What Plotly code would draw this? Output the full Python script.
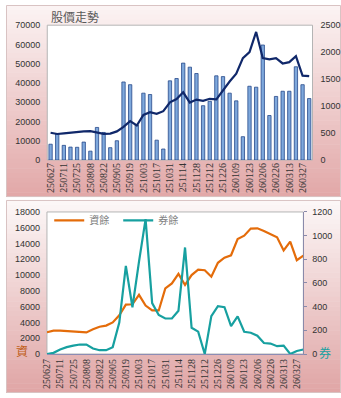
import plotly.graph_objects as go

W, H = 341, 398

dates = ["250627", "250704", "250711", "250718", "250725", "250801", "250808", "250815",
         "250822", "250829", "250905", "250912", "250919", "250926", "251003", "251009",
         "251017", "251024", "251031", "251107", "251114", "251121", "251128", "251205",
         "251212", "251219", "251226", "260102", "260109", "260116", "260123", "260130",
         "260206", "260213", "260226", "260306", "260313", "260320", "260327", "260402"]
tick_labels = dates[::2]

volume = [8200, 13500, 7600, 6700, 6600, 9300, 4600, 16900, 14300, 6400,
          10000, 40500, 39100, 18200, 34700, 34000, 10300, 5700, 41100, 42300,
          50300, 48200, 44900, 28200, 30500, 43700, 43300, 34700, 30700, 12100,
          38300, 37800, 59700, 23100, 33000, 35700, 35700, 48400, 39100, 31900]

price = [505, 482, 494, 510, 522, 530, 534, 506, 484, 490,
         530, 614, 720, 640, 835, 888, 857, 905, 1070, 1130,
         1255, 1066, 1120, 1096, 1135, 1125, 1300, 1455, 1600, 1890,
         2000, 2375, 1890, 1865, 1890, 1790, 1815, 1925, 1565, 1555]

margin_bal = [2760, 2970, 2970, 2920, 2900, 2800, 2740, 3130, 3460, 3600,
              4000, 4900, 6260, 6300, 7500, 6140, 5520, 5520, 8300, 8950,
              10150, 8750, 10000, 10700, 10620, 9800, 11560, 12200, 12510, 14570,
              15000, 15900, 15930, 15600, 15190, 14780, 13130, 14240, 11890, 12470]

short_bal = [0, 10, 38, 58, 71, 80, 80, 46, 32, 32,
             58, 265, 745, 395, 780, 1140, 430, 330, 300, 300,
             365, 900, 222, 189, 0, 320, 404, 395, 236, 318,
             188, 180, 154, 93, 88, 66, 71, 0, 25, 38]

def px_x(p):
    return p / W

def px_y(p):
    return 1 - p / H

fig = go.Figure()
fig.add_trace(go.Bar(x=dates, y=volume, xaxis="x", yaxis="y", showlegend=False,
                     marker=dict(color="#7ea8dc", line=dict(color="#27498a", width=0.8))))
fig.add_trace(go.Scatter(x=dates, y=price, xaxis="x", yaxis="y2", mode="lines", showlegend=False,
                         line=dict(color="#10286a", width=2.2)))
fig.add_trace(go.Scatter(x=dates, y=margin_bal, xaxis="x2", yaxis="y3", mode="lines", name="資餘",
                         line=dict(color="#e46c0a", width=2.2)))
fig.add_trace(go.Scatter(x=dates, y=short_bal, xaxis="x2", yaxis="y4", mode="lines", name="券餘",
                         line=dict(color="#17a0a0", width=2.2)))

shapes = []

def gradient_panel(y0, y1, c0, c1, n=40):
    for i in range(n):
        t = i / (n - 1)
        c = tuple(round(c0[k] + (c1[k] - c0[k]) * t) for k in range(3))
        a = y0 + (y1 - y0) * i / n
        b = y0 + (y1 - y0) * (i + 1) / n + 0.5
        shapes.append(dict(type="rect", xref="paper", yref="paper", layer="below",
                           x0=0, x1=1, y0=px_y(min(b, y1)), y1=px_y(a),
                           fillcolor="rgb(%d,%d,%d)" % c, line=dict(width=0)))
    shapes.append(dict(type="rect", xref="paper", yref="paper", layer="below",
                       x0=px_x(0.5), x1=px_x(W - 0.5), y0=px_y(y1 - 0.5), y1=px_y(y0 + 0.5),
                       line=dict(color="#d9c3c3", width=1)))

gradient_panel(0, 197, (251, 243, 243), (226, 168, 168))
gradient_panel(200, 398, (252, 247, 247), (224, 166, 166))

# plot-area backgrounds
top_dom_x = [px_x(42), px_x(312)]
top_dom_y = [px_y(159), px_y(20.7)]
bot_dom_x = [px_x(41.7), px_x(302.7)]
bot_dom_y = [px_y(358), px_y(212.3)]
for dx, dy in [(top_dom_x, top_dom_y), (bot_dom_x, bot_dom_y)]:
    shapes.append(dict(type="rect", xref="paper", yref="paper", layer="below",
                       x0=dx[0], x1=dx[1], y0=dy[0], y1=dy[1],
                       fillcolor="white", line=dict(color="#b4b4b4", width=1)))

tick_font = dict(family="Liberation Sans, Arial", size=9, color="#333333")
x_font = dict(family="Liberation Serif, Times New Roman", size=10, color="#333333")
num_fmt = dict(tickformat="d", exponentformat="none", separatethousands=False)

fig.update_layout(
    width=W, height=H, autosize=False,
    margin=dict(l=0, r=0, t=0, b=0),
    paper_bgcolor="white", plot_bgcolor="rgba(0,0,0,0)",
    bargap=0.5,
    shapes=shapes,
    xaxis=dict(domain=top_dom_x, anchor="y", type="category", categoryorder="array",
               categoryarray=dates, tickmode="array", tickvals=tick_labels, ticktext=tick_labels,
               tickangle=-90, tickfont=x_font, showgrid=False, zeroline=False, ticks="",
               showline=False),
    yaxis=dict(domain=top_dom_y, anchor="x", range=[0, 70000], dtick=10000,
               tickfont=tick_font, showgrid=False, zeroline=False, ticks="",
               ticklabelstandoff=6, **num_fmt),
    yaxis2=dict(overlaying="y", anchor="x", side="right", range=[0, 2500], dtick=500,
                tickfont=tick_font, showgrid=False, zeroline=False, ticks="",
                ticklabelstandoff=7, **num_fmt),
    xaxis2=dict(domain=bot_dom_x, anchor="y3", type="category", categoryorder="array",
                categoryarray=dates, tickmode="array", tickvals=tick_labels, ticktext=tick_labels,
                tickangle=-90, tickfont=x_font, showgrid=False, zeroline=False, ticks="",
                showline=True, linecolor="#8c8cb4", linewidth=1),
    yaxis3=dict(domain=bot_dom_y, anchor="x2", range=[0, 18000], dtick=2000,
                tickfont=tick_font, showgrid=False, zeroline=False, ticks="",
                ticklabelstandoff=6, **num_fmt),
    yaxis4=dict(overlaying="y3", anchor="x2", side="right", range=[0, 1200], dtick=200,
                tickfont=tick_font, showgrid=False, zeroline=False, ticks="outside",
                ticklen=3, tickcolor="#8a8aaa", showline=True, linecolor="#8a8aaa",
                linewidth=1, ticklabelstandoff=3, **num_fmt),
    legend=dict(orientation="h", x=px_x(44), y=px_y(221), xanchor="left", yanchor="middle",
                bgcolor="rgba(0,0,0,0)", font=dict(family="Noto Sans CJK TC", size=10, color="#7f7f7f"),
                itemwidth=30, tracegroupgap=0, entrywidth=24, entrywidthmode="pixels"),
    annotations=[
        dict(text="股價走勢", xref="paper", yref="paper", x=px_x(44), y=px_y(12),
             xanchor="left", yanchor="middle", showarrow=False,
             font=dict(family="Noto Sans CJK TC", size=12, color="#595959")),
        dict(text="資", xref="paper", yref="paper", x=px_x(16), y=px_y(354),
             xanchor="center", yanchor="middle", showarrow=False,
             font=dict(family="Noto Sans CJK TC", size=12, color="#c0601a")),
        dict(text="券", xref="paper", yref="paper", x=px_x(325), y=px_y(356),
             xanchor="center", yanchor="middle", showarrow=False,
             font=dict(family="Noto Sans CJK TC", size=12, color="#17a0a0")),
    ],
)

fig.write_html("out.html")
